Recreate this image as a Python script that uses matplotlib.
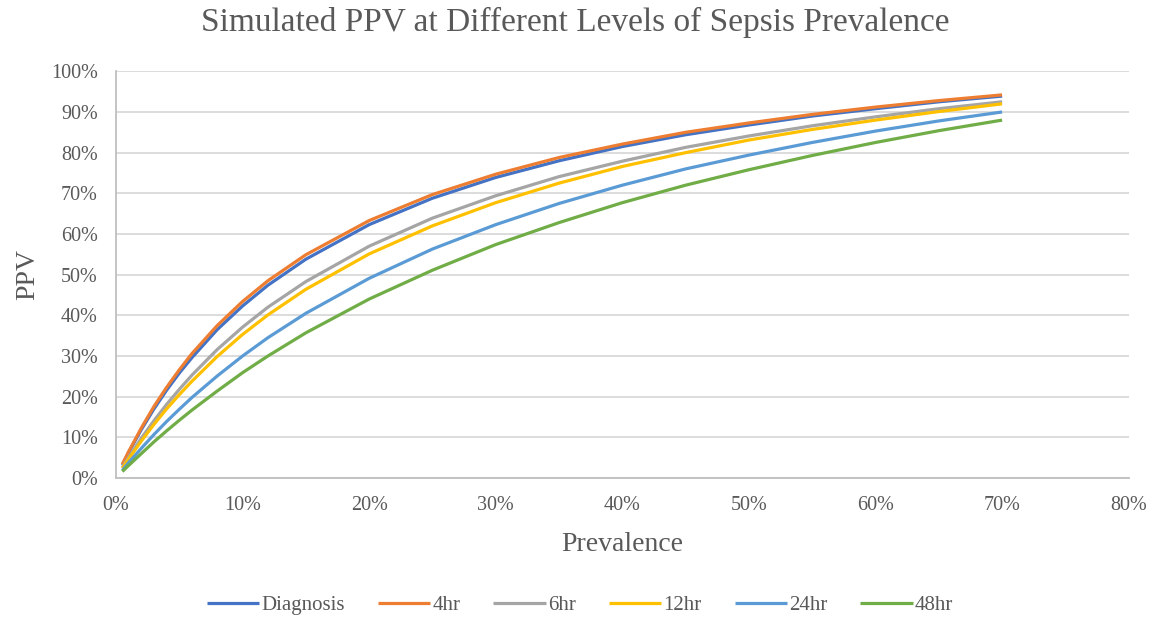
import matplotlib.pyplot as plt
from matplotlib.ticker import PercentFormatter

# prevalence (%) and simulated PPV (%)
prevalence = [0.5, 1, 2, 3, 4, 5, 6, 8, 10, 12, 15, 20, 25, 30, 35, 40, 45, 50, 55, 60, 65, 70]
ppv_diagnosis = [3.2, 6.3, 11.9, 17.0, 21.6, 25.8, 29.6, 36.5, 42.3, 47.4, 53.8, 62.3, 68.8, 73.9,
                 78.0, 81.5, 84.4, 86.8, 89.0, 90.8, 92.5, 93.9]
ppv_4hr = [3.4, 6.5, 12.3, 17.6, 22.3, 26.6, 30.6, 37.5, 43.4, 48.5, 54.9, 63.3, 69.7, 74.7,
           78.8, 82.1, 85.0, 87.3, 89.4, 91.2, 92.8, 94.2]
ppv_6hr = [2.6, 5.1, 9.8, 14.1, 18.1, 21.8, 25.3, 31.6, 37.1, 42.0, 48.3, 57.0, 63.9, 69.4,
           74.1, 77.9, 81.3, 84.1, 86.6, 88.8, 90.8, 92.5]
ppv_12hr = [2.4, 4.7, 9.1, 13.2, 17.0, 20.5, 23.8, 29.9, 35.3, 40.1, 46.4, 55.1, 62.0, 67.7,
            72.5, 76.6, 80.0, 83.1, 85.7, 88.0, 90.1, 92.0]
ppv_24hr = [1.9, 3.8, 7.3, 10.7, 13.9, 16.9, 19.8, 25.1, 30.0, 34.5, 40.5, 49.1, 56.3, 62.3,
            67.5, 72.0, 76.0, 79.4, 82.5, 85.3, 87.8, 90.0]
ppv_48hr = [1.6, 3.1, 6.0, 8.9, 11.6, 14.2, 16.7, 21.4, 25.9, 30.0, 35.7, 44.0, 51.1, 57.4,
            62.8, 67.7, 72.0, 75.8, 79.3, 82.5, 85.4, 88.0]

labels = ['Diagnosis', '4hr', '6hr', '12hr', '24hr', '48hr']
series = [ppv_diagnosis, ppv_4hr, ppv_6hr, ppv_12hr, ppv_24hr, ppv_48hr]
colors = ['#4472C4', '#ED7D31', '#A5A5A5', '#FFC000', '#5B9BD5', '#70AD47']

plt.rcParams['font.family'] = ['Liberation Serif', 'DejaVu Serif']
grey = '#595959'

fig = plt.figure(figsize=(11.6, 6.2), dpi=100)
ax = fig.add_axes([0.1, 0.229, 0.873, 0.656])

for y, lab, c in zip(series, labels, colors):
    ax.plot(prevalence, y, color=c, lw=2.3, label=lab, solid_capstyle='butt')

ax.set_xlim(0, 80)
ax.set_ylim(0, 100)
ax.set_xticks(range(0, 81, 10))
ax.set_yticks(range(0, 101, 10))
ax.xaxis.set_major_formatter(PercentFormatter(decimals=0))
ax.yaxis.set_major_formatter(PercentFormatter(decimals=0))
ax.grid(axis='y', color='#D9D9D9', lw=1.3)
ax.set_axisbelow(True)
for s in ['top', 'right']:
    ax.spines[s].set_visible(False)
for s in ['left', 'bottom']:
    ax.spines[s].set_color('#BFBFBF')
    ax.spines[s].set_linewidth(1.3)
ax.tick_params(length=0, labelsize=14.5, colors=grey)
ax.tick_params(axis='x', pad=13)
ax.tick_params(axis='y', pad=13)

fig.suptitle('Simulated PPV at Different Levels of Sepsis Prevalence', x=0.496, y=0.963,
             fontsize=24, color=grey, va='center')
ax.set_xlabel('Prevalence', fontsize=20, color=grey, labelpad=12)
ax.set_ylabel('PPV', fontsize=20, color=grey, labelpad=8)

fig.legend(loc='center', bbox_to_anchor=(0.5, 0.024), ncol=6, frameon=False, fontsize=15,
           handlelength=2.5, handletextpad=0.1, columnspacing=1.6, labelcolor=grey)

fig.savefig('out.png', dpi=100)
